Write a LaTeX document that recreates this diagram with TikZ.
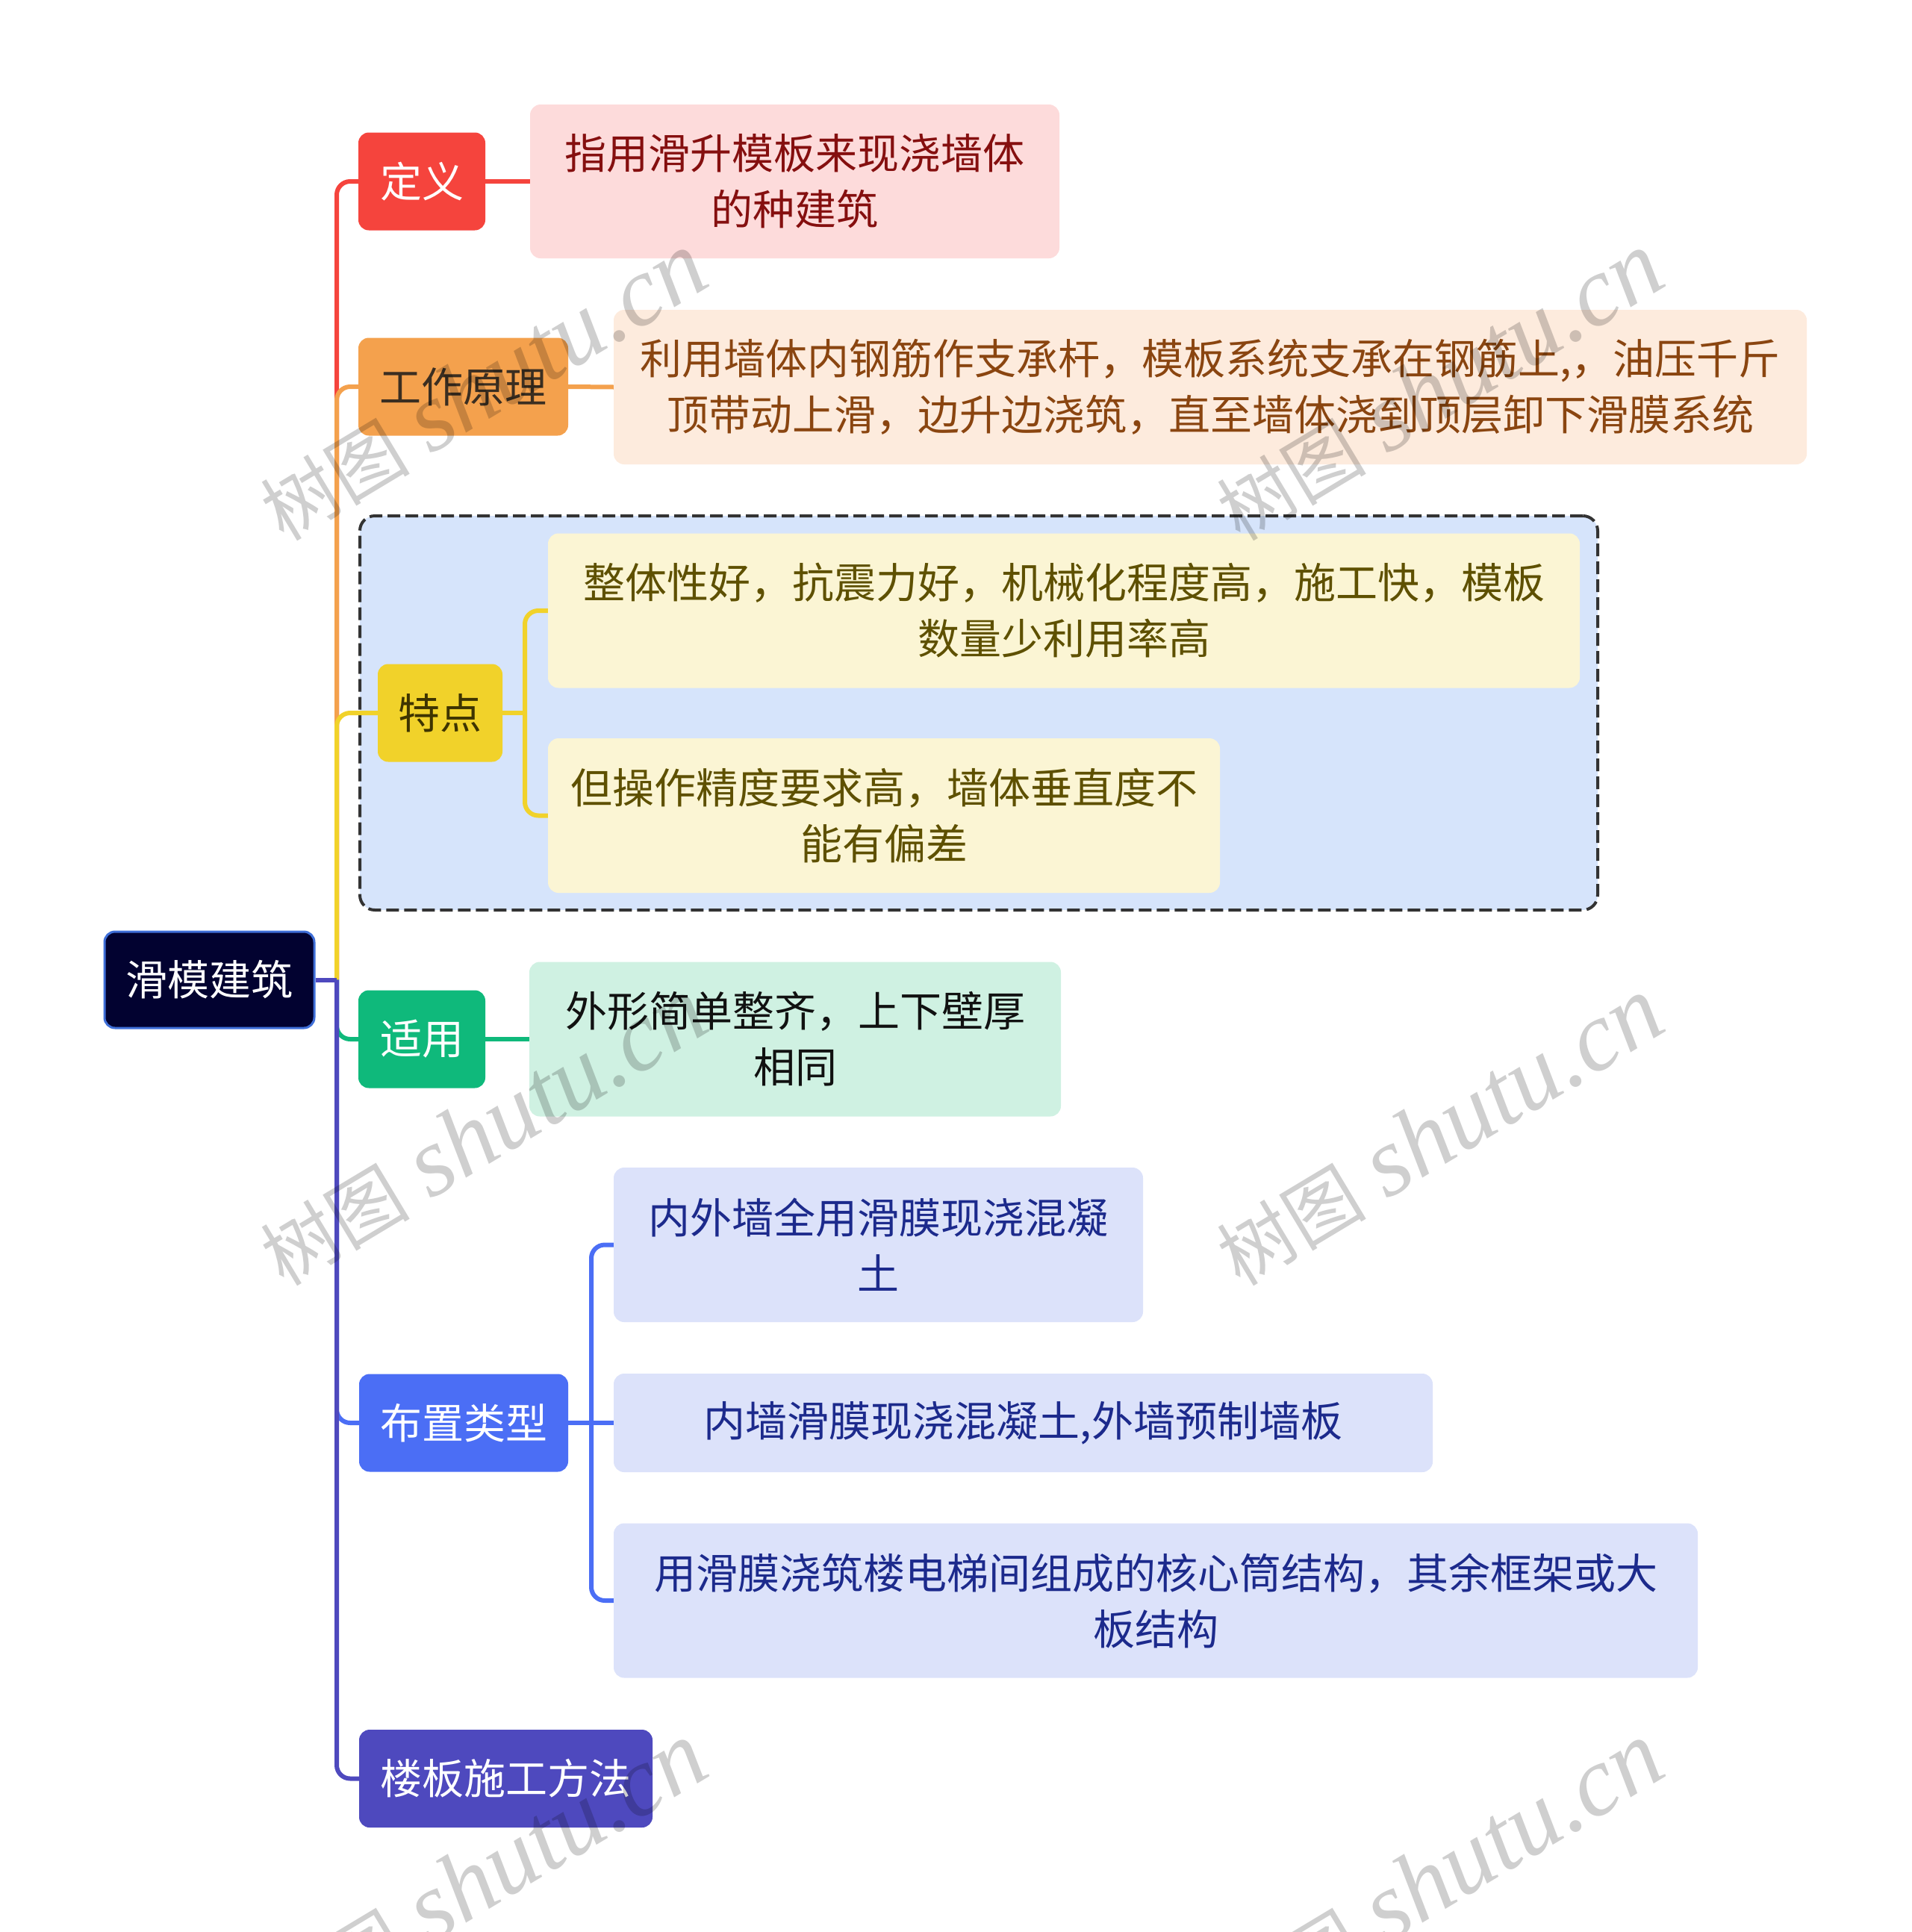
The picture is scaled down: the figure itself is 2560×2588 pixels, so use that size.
\documentclass[tikz,border=0pt]{standalone}
\usepackage{fontspec}
\setmainfont{Liberation Serif}
\newfontfamily\cjk{Noto Sans CJK SC}
\usetikzlibrary{calc}
\pgfdeclarelayer{bgbox}
\pgfdeclarelayer{lines}
\pgfsetlayers{bgbox,lines,main}
\definecolor{cred}{HTML}{F5443D}
\definecolor{lred}{HTML}{FDDBDB}
\definecolor{tred}{HTML}{850F0F}
\definecolor{corange}{HTML}{F4A14D}
\definecolor{torange}{HTML}{3B2E21}
\definecolor{lorange}{HTML}{FDEBDD}
\definecolor{tlorange}{HTML}{8A4510}
\definecolor{groupfill}{HTML}{D6E4FB}
\definecolor{groupline}{HTML}{333333}
\definecolor{cyellow}{HTML}{F1D22A}
\definecolor{tyellow}{HTML}{3E3400}
\definecolor{lyellow}{HTML}{FBF5D4}
\definecolor{tlyellow}{HTML}{5E5000}
\definecolor{cgreen}{HTML}{0FB97B}
\definecolor{lgreen}{HTML}{CFF1E2}
\definecolor{tlgreen}{HTML}{111111}
\definecolor{cblue}{HTML}{4B6EF5}
\definecolor{lblue}{HTML}{DCE2FA}
\definecolor{tlblue}{HTML}{1C2A8C}
\definecolor{cpurple}{HTML}{4E49BE}
\definecolor{rootfill}{HTML}{020230}
\definecolor{rootline}{HTML}{3F6FD8}
\tikzset{
  box/.style={rounded corners=14, inner sep=0pt, align=center, anchor=center,
    font=\cjk\fontsize{56}{75}\selectfont},
  rootnode/.style={box, fill=rootfill, draw=rootline, line width=3pt, text=white,
    minimum width=281, minimum height=129},
  childnode/.style={box, minimum height=131},
  leafnode/.style={box, minimum height=207},
  groupbox/.style={rounded corners=20, draw=groupline, fill=groupfill, line width=4pt,
    dash pattern=on 17pt off 7pt, inner sep=0pt},
  conn/.style={line width=6pt},
  wm/.style={text=black, text opacity=0.19, inner sep=0pt, anchor=center}
}
\begin{document}
\begin{tikzpicture}[x=1pt,y=-1pt]
\useasboundingbox (0,0) rectangle (2560,2588);

% group box
\begin{pgfonlayer}{bgbox}
\node[groupbox, minimum width=1658, minimum height=528] (grp) at (1311,955) {};
\end{pgfonlayer}

% nodes
\node[rootnode] (root) at (280.5,1312.5) {滑模建筑};

\node[childnode, fill=cred, text=white, minimum width=170] (dy) at (565,243) {定义};
\node[leafnode, fill=lred, text=tred, minimum width=709, minimum height=206] (dyl) at (1064.5,243) {指用滑升模板来现浇墙体\\的种建筑};

\node[childnode, fill=corange, text=torange, minimum width=281] (gz) at (620.5,518) {工作原理};
\node[leafnode, fill=lorange, text=tlorange, minimum width=1598] (gzl) at (1621,518.5) {利用墙体内钢筋作支承杆，模板系统支承在钢筋上,，油压千斤\\顶带动上滑，边升边浇筑，直至墙体浇到顶层卸下滑膜系统};

\node[childnode, fill=cyellow, text=tyellow, minimum width=167] (td) at (589.5,955) {特点};
\node[leafnode, fill=lyellow, text=tlyellow, minimum width=1382] (td1) at (1425,818) {整体性好，抗震力好，机械化程度高，施工快，模板\\数量少利用率高};
\node[leafnode, fill=lyellow, text=tlyellow, minimum width=900] (td2) at (1184,1092.5) {但操作精度要求高，墙体垂直度不\\能有偏差};

\node[childnode, fill=cgreen, text=white, minimum width=170] (sy) at (565,1392) {适用};
\node[leafnode, fill=lgreen, text=tlgreen, minimum width=712] (syl) at (1065,1392) {外形简单整齐，上下壁厚\\相同};

\node[childnode, fill=cblue, text=white, minimum width=280] (bz) at (621,1906) {布置类型};
\node[leafnode, fill=lblue, text=tlblue, minimum width=709] (bz1) at (1176.5,1667.5) {内外墙全用滑膜现浇混凝\\土};
\node[leafnode, fill=lblue, text=tlblue, minimum width=1097, minimum height=132] (bz2) at (1370.5,1906) {内墙滑膜现浇混凝土,外墙预制墙板};
\node[leafnode, fill=lblue, text=tlblue, minimum width=1452] (bz3) at (1548,2144) {用滑膜浇筑楼电梯间组成的核心筒结构，其余框架或大\\板结构};

\node[childnode, fill=cpurple, text=white, minimum width=393] (lb) at (677.5,2382.5) {楼板施工方法};

% connectors
\coordinate (sp) at (451,1312.5);
\coordinate (tb) at (703,955);
\coordinate (bb) at (792,1906);
\begin{pgfonlayer}{lines}
\draw[conn, draw=cred, rounded corners=18] (sp) |- (dy.west);
\draw[conn, draw=corange, rounded corners=18] (sp) |- (gz.west);
\draw[conn, draw=cyellow, rounded corners=18] (sp) |- (td.west);
\draw[conn, draw=cgreen, rounded corners=18] (sp) |- (sy.west);
\draw[conn, draw=cblue, rounded corners=18] (sp) |- (bz.west);
\draw[conn, draw=cpurple, rounded corners=18] (sp) |- (lb.west);
\draw[conn, draw=cpurple] (root.east) -- (sp);

\draw[conn, draw=cred] (dy.east) -- (dyl.west);
\draw[conn, draw=corange] (gz.east) -- (gzl.west);
\draw[conn, draw=cgreen] (sy.east) -- (syl.west);

\draw[conn, draw=cyellow] (td.east) -- (tb);
\draw[conn, draw=cyellow, rounded corners=18] (tb) |- (td1.west);
\draw[conn, draw=cyellow, rounded corners=18] (tb) |- (td2.west);

\draw[conn, draw=cblue] (bz.east) -- (bb);
\draw[conn, draw=cblue, rounded corners=18] (bb) |- (bz1.west);
\draw[conn, draw=cblue] (bb) -- (bz2.west);
\draw[conn, draw=cblue, rounded corners=18] (bb) |- (bz3.west);
\end{pgfonlayer}

% watermarks
\foreach \wx/\wy/\wn in {647/518/1, 1928/518/2, 647/1516/3, 1928/1516/4, 647/2514/5, 1928/2514/6}{
  \node[wm, rotate=31] (wm\wn) at (\wx,\wy) {{\cjk\fontsize{100}{110}\selectfont 树图}\hspace{28pt}{\fontsize{132}{140}\selectfont\itshape shutu.cn}};
}
\end{tikzpicture}
\end{document}
